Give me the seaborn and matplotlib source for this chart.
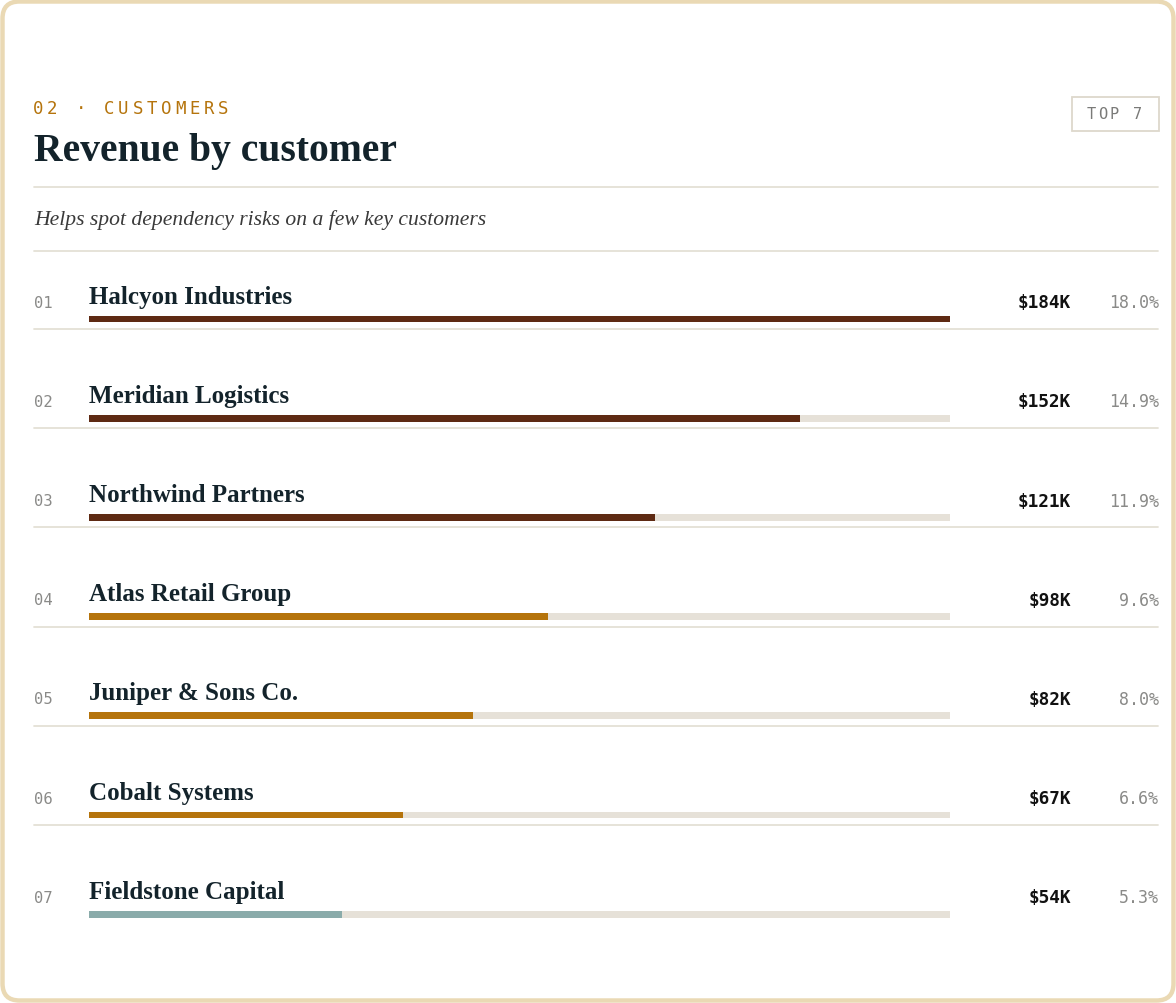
import numpy as np
import pandas as pd
import matplotlib
matplotlib.use("Agg")
import matplotlib.pyplot as plt
import matplotlib.transforms as mtransforms
from matplotlib.patches import FancyBboxPatch, Rectangle
import seaborn as sns

# dados
customers = ["Halcyon Industries", "Meridian Logistics", "Northwind Partners",
             "Atlas Retail Group", "Juniper & Sons Co.", "Cobalt Systems",
             "Fieldstone Capital"]
revenue_k = [184, 152, 121, 98, 82, 67, 54]
share_pct = [18.0, 14.9, 11.9, 9.6, 8.0, 6.6, 5.3]
tiers = ["top", "top", "top", "mid", "mid", "mid", "tail"]

tier_colors = {"top": "#5E2A13", "mid": "#B5740C", "tail": "#8AABAA"}
track_color = "#E6E1D8"
ink = "#13232B"
grey = "#8A8A88"
rule = "#E4E0D6"

sns.set_theme(style="white")
plt.rcParams["font.family"] = ["DejaVu Sans"]

W, H = 1176, 1004
fig = plt.figure(figsize=(W / 100, H / 100), dpi=100, facecolor="white")

def fx(px):
    return px / W

def fy(py):
    return 1 - py / H

# moldura arredondada
frame = FancyBboxPatch((2.5 / 100, 2.5 / 100), (W - 5) / 100, (H - 5) / 100,
                       boxstyle="round,pad=0,rounding_size=0.17",
                       transform=fig.dpi_scale_trans, facecolor="none",
                       edgecolor="#EAD9B4", linewidth=3.2, zorder=0)
fig.patches.append(frame)

def spaced(x0, y, s, step, **kw):
    for i, ch in enumerate(s):
        fig.text(fx(x0 + i * step), fy(y), ch, ha="left", va="center", **kw)

# cabeçalho
spaced(33, 109, "02 · CUSTOMERS", 14.2, family="DejaVu Sans Mono",
       fontsize=12.5, color="#B5740C")
fig.text(fx(34), fy(161), "Revenue by customer", family="Liberation Serif",
         fontweight="bold", fontsize=28.5, color=ink, va="baseline", ha="left")

# caixa TOP 7
fig.patches.append(Rectangle((fx(1071.5), fy(131.5)), fx(87), 34 / H,
                             transform=fig.transFigure, facecolor="none",
                             edgecolor="#DDD8CC", linewidth=1.3))
spaced(1087, 114.5, "TOP 7", 11.4, family="DejaVu Sans Mono", fontsize=11,
       color="#7A7A78")

fig.add_artist(plt.Line2D([fx(34), fx(1158)], [fy(187.5), fy(187.5)],
                          color=rule, lw=1.3, transform=fig.transFigure))
fig.text(fx(34), fy(225), "Helps spot dependency risks on a few key customers",
         family="Liberation Serif", style="italic", fontsize=15.6,
         color="#3A3A3A", va="baseline", ha="left")
fig.add_artist(plt.Line2D([fx(34), fx(1158)], [fy(251.5), fy(251.5)],
                          color=rule, lw=1.3, transform=fig.transFigure))

# área das barras
pitch, first = 99.2, 320
top_px, bot_px = 252, 990
ax = fig.add_axes([fx(89), 1 - bot_px / H, fx(950) - fx(89), (bot_px - top_px) / H])
ax.patch.set_alpha(0)

df = pd.DataFrame({"customer": customers, "revenue": revenue_k,
                   "share": share_pct, "tier": tiers})
df["track"] = df["revenue"].max()

sns.barplot(data=df, x="track", y="customer", color=track_color, width=0.07,
            saturation=1, linewidth=0, ax=ax)
sns.barplot(data=df, x="revenue", y="customer", hue="customer",
            palette=[tier_colors[t] for t in tiers], width=0.07, saturation=1,
            linewidth=0, legend=False, ax=ax)

ax.set_xlim(0, df["revenue"].max())
ax.set_ylim((bot_px - first) / pitch, -(first - top_px) / pitch)
ax.set_axis_off()

tr = mtransforms.blended_transform_factory(fig.transFigure, ax.transData)
n = len(df)
for i, row in df.iterrows():
    ax.text(fx(34), i - 0.17, f"{i + 1:02d}", transform=tr, ha="left",
            va="center", family="DejaVu Sans Mono", fontsize=11.2, color=grey)
    ax.text(fx(89), i - 0.165, row["customer"], transform=tr, ha="left",
            va="baseline", family="Liberation Serif", fontweight="bold",
            fontsize=18, color=ink)
    ax.text(fx(1071), i - 0.17, f"${row['revenue']}K", transform=tr,
            ha="right", va="center", family="DejaVu Sans Mono",
            fontweight="bold", fontsize=12.8, color="#111111")
    ax.text(fx(1159), i - 0.17, f"{row['share']:.1f}%", transform=tr,
            ha="right", va="center", family="DejaVu Sans Mono", fontsize=12,
            color=grey)
    if i < n - 1:
        ax.plot([fx(34), fx(1158)], [i + 0.1, i + 0.1], transform=tr,
                color=rule, lw=1.3, clip_on=False)

fig.savefig("out.png", dpi=100, facecolor="white")
